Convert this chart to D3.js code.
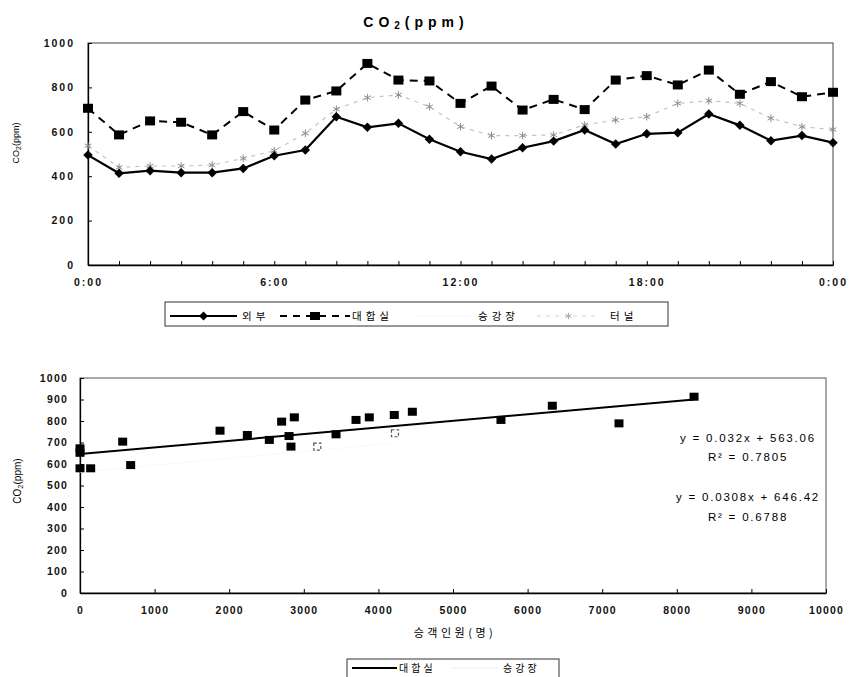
<!DOCTYPE html>
<html>
<head>
<meta charset="utf-8">
<script src="https://cdn.jsdelivr.net/npm/d3@7"></script>
<style>
  body { margin: 0; background: #fff; }
  svg { display: block; font-family: "Liberation Sans", Arial, sans-serif; }
  .kr { font-family: "Noto Sans CJK KR", "Noto Sans", sans-serif; }
</style>
</head>
<body>
<div id="chart"></div>
<script>
//hourly data for the top chart
var hours = [0, 1, 2, 3, 4, 5, 6, 7, 8, 9, 10, 11, 12, 13, 14, 15, 16, 17, 18, 19, 20, 21, 22, 23, 24];
var hourTicks = [0, 6, 12, 18, 24];
var hourLabels = ["0:00", "6:00", "12:00", "18:00", "0:00"];
var outdoor = [495, 413, 425, 416, 416, 435, 492, 518, 668, 620, 638, 566, 510, 477, 528, 558, 608, 545, 591, 596, 680, 629, 560, 583, 551];
var waitingRoom = [706, 586, 649, 643, 586, 691, 608, 743, 784, 908, 833, 829, 728, 806, 698, 746, 700, 833, 853, 811, 878, 769, 826, 758, 778];
var tunnel = [537, 440, 446, 446, 450, 480, 515, 593, 702, 754, 766, 713, 623, 583, 583, 586, 631, 653, 668, 728, 740, 728, 661, 623, 610];

//passenger counts vs CO2 for the bottom chart
var waitPassengers = [0, 0, 0, 143, 572, 679, 1877, 2243, 2538, 2703, 2802, 2828, 2873, 3432, 3700, 3878, 4213, 4455, 5643, 6331, 7225, 8231];
var waitCo2 = [673, 652, 580, 580, 704, 595, 755, 735, 712, 797, 730, 681, 817, 738, 805, 817, 828, 843, 805, 871, 789, 913];
var platformPassengers = [3181, 4222];
var platformCo2 = [681, 743];

//trend lines: [slope, intercept, r2]
var platformFit = [0.032, 563.06, 0.7805];
var waitFit = [0.0308, 646.42, 0.6788];

var W = 852, H = 677;
var svg = d3.select("#chart").append("svg")
  .attr("width", W)
  .attr("height", H);

// ---------------- top chart ----------------
var top1 = {left: 88, right: 833, top: 43, bottom: 265};
var x1 = d3.scaleLinear().domain([0, 24]).range([top1.left, top1.right]);
var y1 = d3.scaleLinear().domain([0, 1000]).range([top1.bottom, top1.top]);

var g1 = svg.append("g");

//frame
g1.append("rect")
  .attr("x", top1.left).attr("y", top1.top)
  .attr("width", top1.right - top1.left).attr("height", top1.bottom - top1.top)
  .attr("fill", "none").attr("stroke", "#444").attr("stroke-width", 1);

//axes
var yAxis1 = d3.axisLeft(y1).tickValues([0, 200, 400, 600, 800, 1000]).tickFormat(d3.format("d"))
  .tickSize(-4).tickSizeOuter(0).tickPadding(13);
g1.append("g").attr("transform", "translate(" + top1.left + ",0)").call(yAxis1);

var xAxis1 = d3.axisBottom(x1).tickValues(hours).tickSize(-4).tickSizeOuter(0).tickPadding(14)
  .tickFormat(function(d) { var i = hourTicks.indexOf(d); return i < 0 ? "" : hourLabels[i]; });
g1.append("g").attr("transform", "translate(0," + top1.bottom + ")").call(xAxis1);

g1.selectAll(".domain").attr("stroke", "#000").attr("stroke-width", 1.3);
g1.selectAll(".tick line").attr("stroke", "#000");
g1.selectAll(".tick text")
  .attr("font-size", 10.5).attr("font-weight", "bold")
  .attr("letter-spacing", "2px").attr("fill", "#111");

//title
var t1 = g1.append("text")
  .attr("x", 416).attr("y", 27)
  .attr("text-anchor", "middle")
  .attr("font-size", 14).attr("font-weight", "bold")
  .attr("letter-spacing", "5px");
t1.append("tspan").text("CO");
t1.append("tspan").attr("font-size", 10).attr("dy", 2).text("2");
t1.append("tspan").attr("dy", -2).text("(ppm)");

//y axis title
var yt1 = g1.append("text")
  .attr("transform", "translate(19,143) rotate(-90)")
  .attr("text-anchor", "middle")
  .attr("font-size", 9);
yt1.append("tspan").text("CO");
yt1.append("tspan").attr("font-size", 7).attr("dy", 2).text("2");
yt1.append("tspan").attr("dy", -2).text("(ppm)");

var line1 = d3.line()
  .x(function(d, i) { return x1(hours[i]); })
  .y(function(d) { return y1(d); });

//tunnel - light dashed with asterisks
g1.append("path").datum(tunnel)
  .attr("d", line1).attr("fill", "none")
  .attr("stroke", "#c4c4c4").attr("stroke-width", 1.2).attr("stroke-dasharray", "4,5");
g1.append("g").selectAll("path").data(tunnel).enter().append("path")
  .attr("transform", function(d, i) { return "translate(" + x1(hours[i]) + "," + y1(d) + ")"; })
  .attr("d", d3.symbol().type(d3.symbolAsterisk).size(40))
  .attr("fill", "none").attr("stroke", "#8a8a8a").attr("stroke-width", 1);

//waiting room - dashed with squares
g1.append("path").datum(waitingRoom)
  .attr("d", line1).attr("fill", "none")
  .attr("stroke", "#000").attr("stroke-width", 2).attr("stroke-dasharray", "8,6");
g1.append("g").selectAll("rect").data(waitingRoom).enter().append("rect")
  .attr("x", function(d, i) { return x1(hours[i]) - 5; })
  .attr("y", function(d) { return y1(d) - 4.5; })
  .attr("width", 10).attr("height", 9)
  .attr("fill", "#000");

//outdoor - solid with diamonds (rotated squares)
g1.append("path").datum(outdoor)
  .attr("d", line1).attr("fill", "none")
  .attr("stroke", "#000").attr("stroke-width", 2.2);
g1.append("g").selectAll("path").data(outdoor).enter().append("path")
  .attr("transform", function(d, i) { return "translate(" + x1(hours[i]) + "," + y1(d) + ") rotate(45)"; })
  .attr("d", d3.symbol().type(d3.symbolSquare).size(45))
  .attr("fill", "#000");

//legend
var leg1 = g1.append("g");
leg1.append("rect")
  .attr("x", 165).attr("y", 302).attr("width", 503).attr("height", 24)
  .attr("fill", "none").attr("stroke", "#333").attr("stroke-width", 1);

var legend1 = [
  {label: "외부", x0: 170, x1: 237, text: 242, stroke: "#000", dash: null, width: 2, symbol: "diamond"},
  {label: "대합실", x0: 280, x1: 350, text: 352, stroke: "#000", dash: "7,6", width: 2, symbol: "square"},
  {label: "승강장", x0: 413, x1: 472, text: 478, stroke: "#f7f7f7", dash: null, width: 1, symbol: null},
  {label: "터널", x0: 537, x1: 600, text: 610, stroke: "#d4d4d4", dash: "4,5", width: 1, symbol: "asterisk"}
];
legend1.forEach(function(d) {
  var cx = (d.x0 + d.x1) / 2, cy = 316;
  var l = leg1.append("line")
    .attr("x1", d.x0).attr("x2", d.x1).attr("y1", cy).attr("y2", cy)
    .attr("stroke", d.stroke).attr("stroke-width", d.width);
  if (d.dash) l.attr("stroke-dasharray", d.dash);
  if (d.symbol === "diamond") {
    leg1.append("path").attr("transform", "translate(" + cx + "," + cy + ") rotate(45)")
      .attr("d", d3.symbol().type(d3.symbolSquare).size(40)).attr("fill", "#000");
  } else if (d.symbol === "square") {
    leg1.append("rect").attr("x", cx - 5).attr("y", cy - 4).attr("width", 10).attr("height", 8).attr("fill", "#000");
  } else if (d.symbol === "asterisk") {
    leg1.append("path").attr("transform", "translate(" + cx + "," + cy + ")")
      .attr("d", d3.symbol().type(d3.symbolAsterisk).size(30))
      .attr("fill", "none").attr("stroke", "#aaa");
  }
  leg1.append("text").attr("class", "kr")
    .attr("x", d.text).attr("y", cy + 4)
    .attr("font-size", 10.5).attr("letter-spacing", "4px")
    .text(d.label);
});

// ---------------- bottom chart ----------------
var bot = {left: 80, right: 826, top: 378, bottom: 593};
var x2 = d3.scaleLinear().domain([0, 10000]).range([bot.left, bot.right]);
var y2 = d3.scaleLinear().domain([0, 1000]).range([bot.bottom, bot.top]);

var g2 = svg.append("g");

g2.append("rect")
  .attr("x", bot.left).attr("y", bot.top)
  .attr("width", bot.right - bot.left).attr("height", bot.bottom - bot.top)
  .attr("fill", "none").attr("stroke", "#555").attr("stroke-width", 1);

var yAxis2 = d3.axisLeft(y2).ticks(10).tickFormat(d3.format("d")).tickSize(-4).tickSizeOuter(0).tickPadding(12);
g2.append("g").attr("transform", "translate(" + bot.left + ",0)").call(yAxis2);
var xAxis2 = d3.axisBottom(x2).ticks(10).tickFormat(d3.format("d")).tickSize(-4).tickSizeOuter(0).tickPadding(14);
g2.append("g").attr("transform", "translate(0," + bot.bottom + ")").call(xAxis2);

g2.selectAll(".domain").attr("stroke", "#000").attr("stroke-width", 1.3);
g2.selectAll(".tick line").attr("stroke", "#000");
g2.selectAll(".tick text")
  .attr("font-size", 10.5).attr("font-weight", "bold")
  .attr("letter-spacing", "1.2px").attr("fill", "#111");

//y axis title
var yt2 = g2.append("text")
  .attr("transform", "translate(21,481) rotate(-90)")
  .attr("text-anchor", "middle")
  .attr("font-size", 10);
yt2.append("tspan").text("CO");
yt2.append("tspan").attr("font-size", 7.5).attr("dy", 2).text("2");
yt2.append("tspan").attr("dy", -2).text("(ppm)");

//x axis title
g2.append("text").attr("class", "kr")
  .attr("x", 455).attr("y", 637)
  .attr("text-anchor", "middle")
  .attr("font-size", 11).attr("letter-spacing", "3.5px")
  .text("승객인원(명)");

//platform trend (nearly invisible in the scan) and points
g2.append("line")
  .attr("x1", x2(0)).attr("y1", y2(platformFit[1]))
  .attr("x2", x2(d3.max(platformPassengers))).attr("y2", y2(platformFit[0] * d3.max(platformPassengers) + platformFit[1]))
  .attr("stroke", "#fafafa").attr("stroke-width", 1.5);
g2.append("g").selectAll("rect").data(platformCo2).enter().append("rect")
  .attr("x", function(d, i) { return x2(platformPassengers[i]) - 3.5; })
  .attr("y", function(d) { return y2(d) - 3.5; })
  .attr("width", 7).attr("height", 7)
  .attr("fill", "none").attr("stroke", "#555").attr("stroke-width", 1.2)
  .attr("stroke-dasharray", "3,2");

//waiting room trend line
var maxWait = d3.max(waitPassengers);
g2.append("line")
  .attr("x1", x2(0)).attr("y1", y2(waitFit[1]))
  .attr("x2", x2(maxWait)).attr("y2", y2(waitFit[0] * maxWait + waitFit[1]))
  .attr("stroke", "#000").attr("stroke-width", 2);

g2.append("g").selectAll("rect").data(waitCo2).enter().append("rect")
  .attr("x", function(d, i) { return x2(waitPassengers[i]) - 4.5; })
  .attr("y", function(d) { return y2(d) - 4; })
  .attr("width", 9).attr("height", 8)
  .attr("fill", "#000");

//equations
var eq = [
  {text: "y = " + platformFit[0] + "x + " + platformFit[1].toFixed(2), y: 442},
  {text: "R² = " + platformFit[2], y: 461},
  {text: "y = " + waitFit[0] + "x + " + waitFit[1].toFixed(2), y: 501},
  {text: "R² = " + waitFit[2], y: 521}
];
g2.selectAll(".eq").data(eq).enter().append("text")
  .attr("class", "eq")
  .attr("x", 748).attr("y", function(d) { return d.y; })
  .attr("text-anchor", "middle")
  .attr("font-size", 11.5).attr("letter-spacing", "1.8px")
  .text(function(d) { return d.text; });

//legend
var leg2 = g2.append("g");
leg2.append("rect")
  .attr("x", 347).attr("y", 659).attr("width", 212).attr("height", 24)
  .attr("fill", "none").attr("stroke", "#333").attr("stroke-width", 1);
var legend2 = [
  {label: "대합실", x0: 352, x1: 397, text: 399, stroke: "#000"},
  {label: "승강장", x0: 450, x1: 498, text: 503, stroke: "#f7f7f7"}
];
legend2.forEach(function(d) {
  leg2.append("line")
    .attr("x1", d.x0).attr("x2", d.x1).attr("y1", 668).attr("y2", 668)
    .attr("stroke", d.stroke).attr("stroke-width", 1.8);
  leg2.append("text").attr("class", "kr")
    .attr("x", d.text).attr("y", 672)
    .attr("font-size", 10).attr("letter-spacing", "3px")
    .text(d.label);
});
</script>
</body>
</html>
